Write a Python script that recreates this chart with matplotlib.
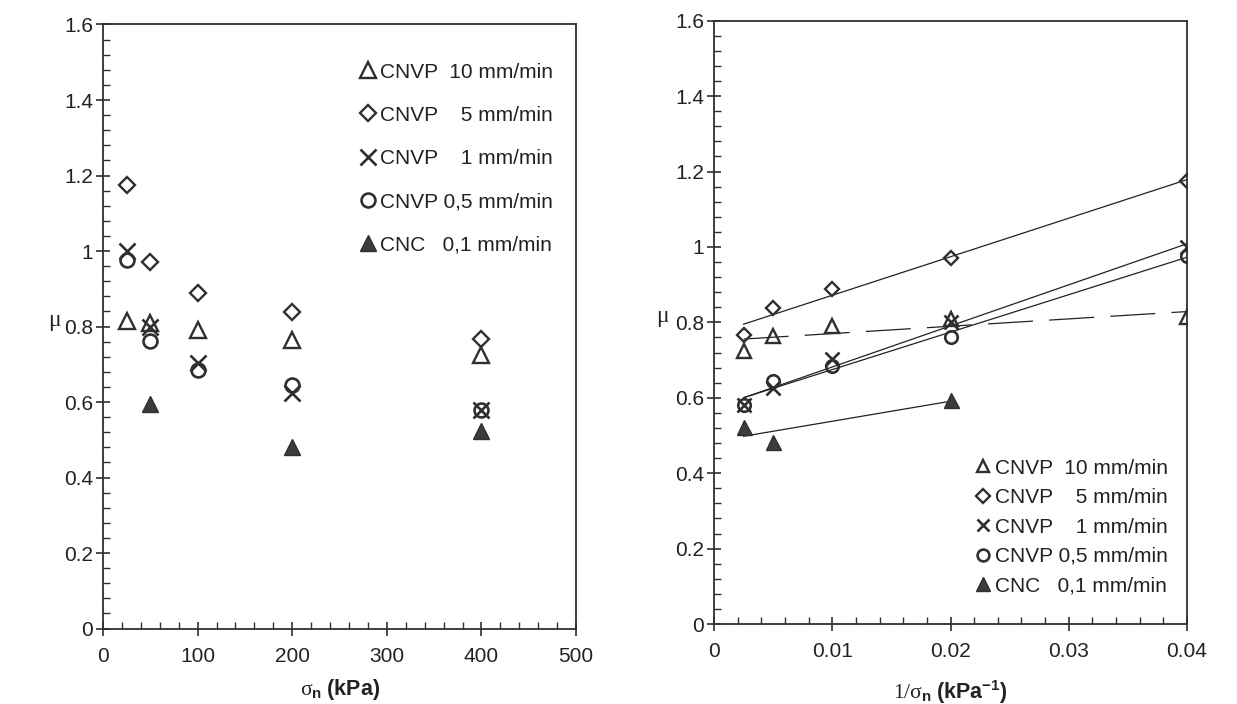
import numpy as np
import matplotlib
matplotlib.use("Agg")
import matplotlib.pyplot as plt
from matplotlib.ticker import MultipleLocator, FuncFormatter

# ---- data ----
sigma_n = [25, 50, 100, 200, 400]                 # kPa
mu_cnvp_10 = [0.815, 0.81, 0.79, 0.765, 0.725]
mu_cnvp_5 = [1.175, 0.972, 0.888, 0.838, 0.767]
mu_cnvp_1 = [1.0, 0.80, 0.703, 0.625, 0.58]
mu_cnvp_05 = [0.975, 0.762, 0.685, 0.645, 0.58]
sigma_cnc = [50, 200, 400]
mu_cnc_01 = [0.595, 0.482, 0.523]

series_labels = ["CNVP  10 mm/min", "CNVP    5 mm/min", "CNVP    1 mm/min",
                 "CNVP 0,5 mm/min", "CNC   0,1 mm/min"]
left_xticks = [0, 100, 200, 300, 400, 500]
right_xticks = [0, 0.01, 0.02, 0.03, 0.04]
yticks = [0, 0.2, 0.4, 0.6, 0.8, 1.0, 1.2, 1.4, 1.6]

plt.rcParams["font.family"] = ["Liberation Sans", "DejaVu Sans"]
plt.rcParams["mathtext.fontset"] = "custom"
plt.rcParams["mathtext.rm"] = "Liberation Serif"
plt.rcParams["mathtext.it"] = "Liberation Serif:italic"
plt.rcParams["mathtext.bf"] = "Liberation Sans:bold"

INK = "#2f2f2f"
TXT = "#222222"
fig = plt.figure(figsize=(12.37, 7.04), dpi=100)
axL = fig.add_axes([0.0833, 0.1072, 0.3824, 0.858])
axR = fig.add_axes([0.5772, 0.1136, 0.3824, 0.857])

series = [
    (sigma_n, mu_cnvp_10, dict(marker="^", mfc="none", ms=11, mew=1.7), (0, (36, 13))),
    (sigma_n, mu_cnvp_5, dict(marker="D", mfc="none", ms=7.8, mew=1.7), "-"),
    (sigma_n, mu_cnvp_1, dict(marker="x", mfc="none", ms=11, mew=1.9), "-"),
    (sigma_n, mu_cnvp_05, dict(marker="o", mfc="none", ms=10, mew=1.9), "-"),
    (sigma_cnc, mu_cnc_01, dict(marker="^", mfc="#3c3c3c", ms=12, mew=1.0), "-"),
]

handles = []
for (s, mu, mk, ls), lab in zip(series, series_labels):
    s = np.asarray(s, float)
    mu = np.asarray(mu, float)
    h, = axL.plot(s, mu, ls="none", mec=INK, color=INK, label=lab, **mk)
    handles.append(h)
    inv = 1.0 / s
    mk2 = dict(mk)
    mk2["ms"] = mk["ms"] * 0.9
    axR.plot(inv, mu, ls="none", mec=INK, color=INK, zorder=3, **mk2)
    b, a = np.polyfit(inv, mu, 1)
    xs = np.array([inv.min(), inv.max()])
    axR.plot(xs, a + b * xs, color="#222222", lw=0.9, linestyle=ls, zorder=2)

fmt = FuncFormatter(lambda v, p: f"{v:g}")
for ax in (axL, axR):
    ax.set_ylim(0, 1.6)
    ax.set_yticks(yticks)
    ax.yaxis.set_minor_locator(MultipleLocator(0.04))
    ax.yaxis.set_major_formatter(fmt)
    ax.xaxis.set_major_formatter(fmt)
    for sp in ax.spines.values():
        sp.set_linewidth(1.3)
        sp.set_color(INK)
    ax.tick_params(which="major", direction="inout", length=10, width=1.2,
                   color=INK, labelsize=15, labelcolor=TXT)
    ax.tick_params(axis="y", which="major", pad=2)
    ax.tick_params(axis="x", which="major", pad=8)
    ax.tick_params(which="minor", direction="in", length=5, width=1.0, color=INK)
    ax.tick_params(which="both", top=False, right=False)

axL.set_xlim(0, 500)
axL.set_xticks(left_xticks)
axL.xaxis.set_minor_locator(MultipleLocator(20))
axR.set_xlim(0, 0.04)
axR.set_xticks(right_xticks)
axR.xaxis.set_minor_locator(MultipleLocator(0.002))

axL.set_xlabel(r"$\mathrm{\sigma}_\mathbf{n}\ \mathbf{(kPa)}$", fontsize=15.5, color=TXT)
axR.set_xlabel(r"$\mathrm{1/\sigma}_\mathbf{n}\ \mathbf{(kPa^{-1})}$", fontsize=15.5, color=TXT)
axL.xaxis.set_label_coords(0.5, -0.081)
axR.xaxis.set_label_coords(0.5, -0.089)
for ax in (axL, axR):
    ax.set_ylabel("μ", fontsize=17, color=TXT, family=["Liberation Serif", "DejaVu Serif"],
                  rotation=0, ha="center", va="center")
axL.yaxis.set_label_coords(-0.102, 0.51)
axR.yaxis.set_label_coords(-0.108, 0.51)

axL.legend(handles=handles, loc="upper left", bbox_to_anchor=(0.543, 0.937),
           frameon=False, fontsize=15, handlelength=0.8, handletextpad=0.15,
           labelspacing=1.16, borderpad=0, borderaxespad=0, labelcolor=TXT)
axR.legend(handles=handles, loc="upper left", bbox_to_anchor=(0.551, 0.274),
           frameon=False, fontsize=15, handlelength=0.8, handletextpad=0.2,
           labelspacing=0.5, borderpad=0, borderaxespad=0, markerscale=0.85,
           labelcolor=TXT)

fig.savefig("out.png", dpi=100, facecolor="white")
